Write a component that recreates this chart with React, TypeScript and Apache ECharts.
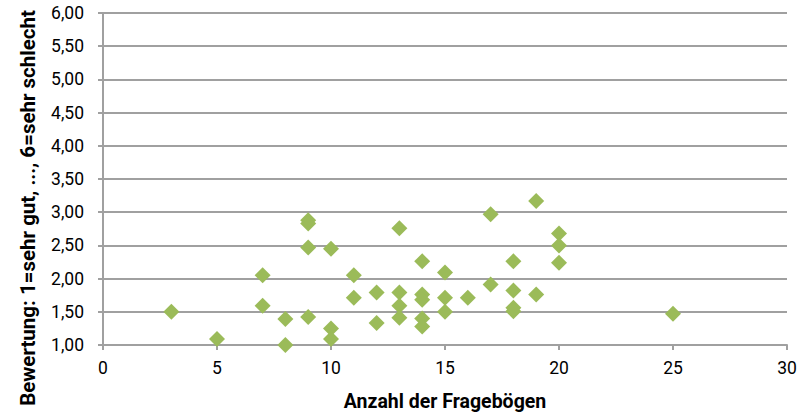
import React, { useEffect, useRef } from "react";
import * as echarts from "echarts";

const xValues = [3, 5, 7, 7, 8, 8, 9, 9, 9, 9, 10, 10, 10, 11, 11, 12, 12, 13, 13, 13, 13, 14, 14, 14, 14, 14, 15, 15, 15, 16, 17, 17, 18, 18, 18, 18, 19, 19, 20, 20, 20, 25];
const yValues = [1.5, 1.09, 2.05, 1.59, 1.39, 1.0, 2.88, 2.83, 2.47, 1.42, 2.45, 1.25, 1.09, 2.05, 1.71, 1.79, 1.33, 2.76, 1.79, 1.59, 1.41, 2.26, 1.76, 1.68, 1.4, 1.28, 2.09, 1.71, 1.5, 1.71, 2.97, 1.91, 2.26, 1.82, 1.56, 1.51, 3.17, 1.76, 2.68, 2.5, 2.24, 1.47];

const xTitle = "Anzahl der Fragebögen";
const yTitle = "Bewertung: 1=sehr gut, ..., 6=sehr schlecht";

export default function App() {
  const ref = useRef<HTMLDivElement>(null);
  useEffect(() => {
    if (!ref.current) return;
    const chart = echarts.init(ref.current, undefined, { renderer: "svg" });
    const font = "Roboto, 'Liberation Sans', sans-serif";
    chart.setOption({
      animation: false,
      backgroundColor: "#ffffff",
      grid: { left: 103, right: 22, top: 13, bottom: 70, containLabel: false },
      xAxis: {
        type: "value",
        min: 0,
        max: 30,
        interval: 5,
        name: xTitle,
        nameLocation: "middle",
        nameGap: 46,
        nameTextStyle: { fontFamily: font, fontSize: 19.5, fontWeight: "bold", color: "#000" },
        axisLine: { show: true, lineStyle: { color: "#a0a0a0", width: 2 } },
        axisTick: { show: true, length: 5, lineStyle: { color: "#a0a0a0", width: 2 } },
        axisLabel: { fontFamily: font, fontSize: 17.5, color: "#000", margin: 14 },
        splitLine: { show: false },
      },
      yAxis: {
        type: "value",
        min: 1,
        max: 6,
        interval: 0.5,
        axisLine: { show: true, lineStyle: { color: "#a0a0a0", width: 2 } },
        axisTick: { show: true, length: 5, lineStyle: { color: "#a0a0a0", width: 2 } },
        axisLabel: {
          fontFamily: font,
          fontSize: 17.5,
          color: "#000",
          margin: 19,
          formatter: (v: number) => v.toFixed(2).replace(".", ","),
        },
        splitLine: { show: true, lineStyle: { color: "#a0a0a0", width: 2 } },
      },
      graphic: [
        {
          type: "text",
          x: 28,
          y: 208,
          rotation: Math.PI / 2,
          style: {
            text: yTitle,
            font: "bold 20.5px " + font,
            fill: "#000",
            textAlign: "center",
            textVerticalAlign: "middle",
          },
        },
      ],
      series: [
        {
          type: "scatter",
          symbol: "diamond",
          symbolSize: 16,
          itemStyle: { color: "#9bbb59", opacity: 1 },
          data: xValues.map((x, i) => [x, yValues[i]]),
        },
      ],
    });
    return () => chart.dispose();
  }, []);
  return <div ref={ref} style={{ width: 809, height: 416, position: "absolute", left: 0, top: 0 }} />;
}
